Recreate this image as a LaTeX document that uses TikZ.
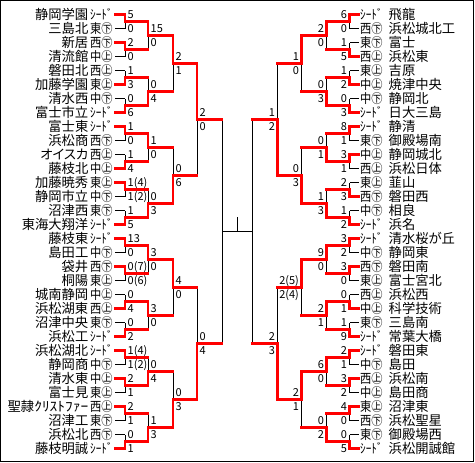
\documentclass[tikz,border=0pt]{standalone}
\usepackage{graphicx}
\usepackage{fontspec}
\setmainfont{Noto Sans CJK JP}
\newfontfamily\namefont[RawFeature=+palt]{Noto Sans CJK JP}
\pgfdeclarelayer{bg}
\pgfsetlayers{bg,main}
\tikzset{
  win/.style={draw=red, line width=2.4pt, line cap=rect},
  lose/.style={draw=black, line width=1pt},
  tname/.style={inner sep=0pt, font=\namefont\fontsize{13.3}{14}\selectfont, text height=11.7pt, text depth=1.6pt},
  tlab/.style={inner sep=0pt, font=\fontsize{13}{14}\selectfont, text height=11.4pt, text depth=1.6pt},
  score/.style={inner sep=0pt, font=\fontsize{11}{12}\selectfont, text height=8pt, text depth=0pt},
  frame/.style={draw=black, line width=1pt}
}
\newcommand\labbox[1]{\resizebox{22.5pt}{\height}{#1}}
\newcommand\getx[1]{\ifcase#1 0\or125\or148\or173\or197\or222\or237.3\fi}
% team on the left
\newcommand\lteam[4]{%
  \pgfmathsetmacro\ty{14.5+14*#1}%
  \node[tname,anchor=east] (Ln#1) at (88.5,\ty) {#2};%
  \node[tlab,anchor=west] (Ll#1) at (90,\ty) {\labbox{#3}};%
  \coordinate (Lt#1) at (125,\ty);%
  \draw[#4] ([xshift=2.5pt]Ll#1.east) -- (Lt#1);%
}
% team on the right
\newcommand\rteam[4]{%
  \pgfmathsetmacro\ty{14.5+14*#1}%
  \node[tname,anchor=west] (Rn#1) at (388.5,\ty) {#2};%
  \node[tlab,anchor=west] (Rl#1) at (360,\ty) {\labbox{#3}};%
  \coordinate (Rt#1) at (349.6,\ty);%
  \draw[#4] (Rt#1) -- ([xshift=-1.5pt]Rl#1.west);%
}
% match: #1 side L/R, #2 round, #3 index, #4 winner u/l, #5 upper score, #6 lower score
\newcommand\bm[6]{%
  \if#1L\def\sg{(1)}\def\sanch{west}\else\def\sg{(-1)}\def\sanch{east}\fi
  \edef\gx{\getx{#2}}%
  \edef\gxn{\getx{\numexpr#2+1\relax}}%
  \pgfmathsetmacro\hh{2^(#2-1)}%
  \pgfmathsetmacro\bb{#3*2*\hh}%
  \pgfmathsetmacro\yu{14.5+14*(\bb+(\hh-1)/2)}%
  \pgfmathsetmacro\yl{\yu+14*\hh}%
  \pgfmathsetmacro\ym{(\yu+\yl)/2}%
  \pgfmathsetmacro\xv{237.3+\sg*(\gx-237.3)}%
  \pgfmathsetmacro\xn{237.3+\sg*(\gxn-237.3)}%
  \pgfmathsetmacro\sx{\xv+\sg*2.5}%
  \coordinate (#1a#2-#3) at (\xv,\yu);%
  \coordinate (#1b#2-#3) at (\xv,\yl);%
  \coordinate (#1j#2-#3) at (\xv,\ym);%
  \coordinate (#1o#2-#3) at (\xn,\ym);%
  \if#4u%
    \begin{pgfonlayer}{bg}\draw[lose] (#1j#2-#3) -- (#1b#2-#3);\end{pgfonlayer}%
    \draw[win] (#1a#2-#3) -- (#1j#2-#3) -- (#1o#2-#3);%
  \else
    \begin{pgfonlayer}{bg}\draw[lose] (#1j#2-#3) -- (#1a#2-#3);\end{pgfonlayer}%
    \draw[win] (#1b#2-#3) -- (#1j#2-#3) -- (#1o#2-#3);%
  \fi
  \node[score,anchor=\sanch] (#1s#2-#3u) at (\sx,\ym-7) {#5};%
  \node[score,anchor=\sanch] (#1s#2-#3l) at (\sx,\ym+7) {#6};%
}
\begin{document}
\begin{tikzpicture}[x=1pt,y=-1pt]
\useasboundingbox (0,0) rectangle (475,463);
\draw[frame] (0.5,0.5) rectangle (473.5,461.5);

% ---------- left teams ----------
\lteam{0}{静岡学園}{ｼｰﾄﾞ}{win}
\lteam{1}{三島北}{東㊦}{lose}
\lteam{2}{新居}{西㊦}{win}
\lteam{3}{清流館}{中㊤}{lose}
\lteam{4}{磐田北}{西㊤}{lose}
\lteam{5}{加藤学園}{東㊤}{win}
\lteam{6}{清水西}{中㊦}{lose}
\lteam{7}{富士市立}{ｼｰﾄﾞ}{win}
\lteam{8}{富士東}{ｼｰﾄﾞ}{win}
\lteam{9}{浜松商}{西㊦}{lose}
\lteam{10}{オイスカ}{西㊤}{lose}
\lteam{11}{藤枝北}{中㊤}{win}
\lteam{12}{加藤暁秀}{東㊤}{win}
\lteam{13}{静岡市立}{中㊦}{lose}
\lteam{14}{沼津西}{東㊦}{lose}
\lteam{15}{東海大翔洋}{ｼｰﾄﾞ}{win}
\lteam{16}{藤枝東}{ｼｰﾄﾞ}{win}
\lteam{17}{島田工}{中㊦}{lose}
\lteam{18}{袋井}{西㊦}{win}
\lteam{19}{桐陽}{東㊤}{lose}
\lteam{20}{城南静岡}{中㊤}{lose}
\lteam{21}{浜松湖東}{西㊤}{win}
\lteam{22}{沼津中央}{東㊦}{lose}
\lteam{23}{浜松工}{ｼｰﾄﾞ}{win}
\lteam{24}{浜松湖北}{ｼｰﾄﾞ}{win}
\lteam{25}{静岡商}{中㊦}{lose}
\lteam{26}{清水東}{中㊤}{win}
\lteam{27}{富士見}{東㊤}{lose}
\lteam{28}{聖隷\resizebox{54pt}{\height}{ｸﾘｽﾄﾌｧｰ}}{西㊤}{win}
\lteam{29}{沼津工}{東㊦}{lose}
\lteam{30}{浜松北}{西㊦}{lose}
\lteam{31}{藤枝明誠}{ｼｰﾄﾞ}{win}

% ---------- right teams ----------
\rteam{0}{飛龍}{ｼｰﾄﾞ}{win}
\rteam{1}{浜松城北工}{西㊦}{lose}
\rteam{2}{富士}{東㊦}{lose}
\rteam{3}{浜松東}{西㊤}{win}
\rteam{4}{吉原}{東㊤}{lose}
\rteam{5}{焼津中央}{中㊤}{win}
\rteam{6}{静岡北}{中㊦}{lose}
\rteam{7}{日大三島}{ｼｰﾄﾞ}{win}
\rteam{8}{静清}{ｼｰﾄﾞ}{win}
\rteam{9}{御殿場南}{東㊦}{lose}
\rteam{10}{静岡城北}{中㊤}{win}
\rteam{11}{浜松日体}{西㊤}{lose}
\rteam{12}{韮山}{東㊤}{lose}
\rteam{13}{磐田西}{西㊦}{win}
\rteam{14}{相良}{中㊦}{lose}
\rteam{15}{浜名}{ｼｰﾄﾞ}{win}
\rteam{16}{清水桜が丘}{ｼｰﾄﾞ}{win}
\rteam{17}{静岡東}{中㊦}{lose}
\rteam{18}{磐田南}{西㊦}{win}
\rteam{19}{富士宮北}{東㊤}{lose}
\rteam{20}{浜松西}{西㊤}{lose}
\rteam{21}{科学技術}{中㊤}{win}
\rteam{22}{三島南}{東㊦}{lose}
\rteam{23}{常葉大橋}{ｼｰﾄﾞ}{win}
\rteam{24}{磐田東}{ｼｰﾄﾞ}{win}
\rteam{25}{島田}{中㊦}{lose}
\rteam{26}{浜松南}{西㊤}{win}
\rteam{27}{島田商}{中㊤}{lose}
\rteam{28}{沼津東}{東㊤}{win}
\rteam{29}{浜松聖星}{西㊦}{lose}
\rteam{30}{御殿場西}{東㊦}{lose}
\rteam{31}{浜松開誠館}{ｼｰﾄﾞ}{win}

% ---------- left matches ----------
\bm{L}{1}{0}{u}{5}{0}
\bm{L}{1}{1}{u}{2}{0}
\bm{L}{1}{2}{l}{1}{3}
\bm{L}{1}{3}{l}{0}{6}
\bm{L}{1}{4}{u}{1}{0}
\bm{L}{1}{5}{l}{1}{4}
\bm{L}{1}{6}{u}{1(4)}{1(2)}
\bm{L}{1}{7}{l}{1}{5}
\bm{L}{1}{8}{u}{13}{0}
\bm{L}{1}{9}{u}{0(7)}{0(6)}
\bm{L}{1}{10}{l}{0}{4}
\bm{L}{1}{11}{l}{0}{2}
\bm{L}{1}{12}{u}{1(4)}{1(2)}
\bm{L}{1}{13}{u}{2}{1}
\bm{L}{1}{14}{u}{2}{1}
\bm{L}{1}{15}{l}{0}{1}
\bm{L}{2}{0}{u}{15}{0}
\bm{L}{2}{1}{l}{0}{4}
\bm{L}{2}{2}{u}{1}{0}
\bm{L}{2}{3}{l}{0}{3}
\bm{L}{2}{4}{u}{3}{0}
\bm{L}{2}{5}{u}{3}{0}
\bm{L}{2}{6}{l}{0}{4}
\bm{L}{2}{7}{l}{1}{3}
\bm{L}{3}{0}{u}{2}{1}
\bm{L}{3}{1}{l}{0}{6}
\bm{L}{3}{2}{u}{4}{0}
\bm{L}{3}{3}{l}{0}{3}
\bm{L}{4}{0}{u}{2}{0}
\bm{L}{4}{1}{l}{0}{4}

% ---------- right matches ----------
\bm{R}{1}{0}{u}{6}{0}
\bm{R}{1}{1}{l}{1}{5}
\bm{R}{1}{2}{l}{1}{2}
\bm{R}{1}{3}{l}{0}{3}
\bm{R}{1}{4}{u}{8}{1}
\bm{R}{1}{5}{u}{3}{1}
\bm{R}{1}{6}{l}{2}{3}
\bm{R}{1}{7}{l}{1}{2}
\bm{R}{1}{8}{u}{3}{2}
\bm{R}{1}{9}{u}{3}{0}
\bm{R}{1}{10}{l}{0}{1}
\bm{R}{1}{11}{l}{1}{9}
\bm{R}{1}{12}{u}{2}{1}
\bm{R}{1}{13}{u}{3}{2}
\bm{R}{1}{14}{u}{4}{0}
\bm{R}{1}{15}{l}{0}{5}
\bm{R}{2}{0}{u}{2}{0}
\bm{R}{2}{1}{l}{0}{3}
\bm{R}{2}{2}{l}{0}{1}
\bm{R}{2}{3}{l}{1}{3}
\bm{R}{2}{4}{u}{9}{0}
\bm{R}{2}{5}{u}{2}{1}
\bm{R}{2}{6}{u}{6}{0}
\bm{R}{2}{7}{l}{0}{2}
\bm{R}{3}{0}{u}{1}{0}
\bm{R}{3}{1}{l}{0}{3}
\bm{R}{3}{2}{u}{2(5)}{2(4)}
\bm{R}{3}{3}{u}{2}{1}
\bm{R}{4}{0}{l}{1}{2}
\bm{R}{4}{1}{l}{2}{3}

% ---------- semifinals and final (not yet played) ----------
\coordinate (FL) at (222,231.5);
\coordinate (FR) at (252.6,231.5);
\coordinate (FB) at (237.3,231.5);
\coordinate (FT) at (237.3,217);
\begin{pgfonlayer}{bg}
\draw[lose] (Lo4-0) -- (Lo4-1);
\draw[lose] (Ro4-0) -- (Ro4-1);
\draw[lose] (FL) -- (FR);
\draw[lose] (FB) -- (FT);
\end{pgfonlayer}
\end{tikzpicture}
\end{document}
